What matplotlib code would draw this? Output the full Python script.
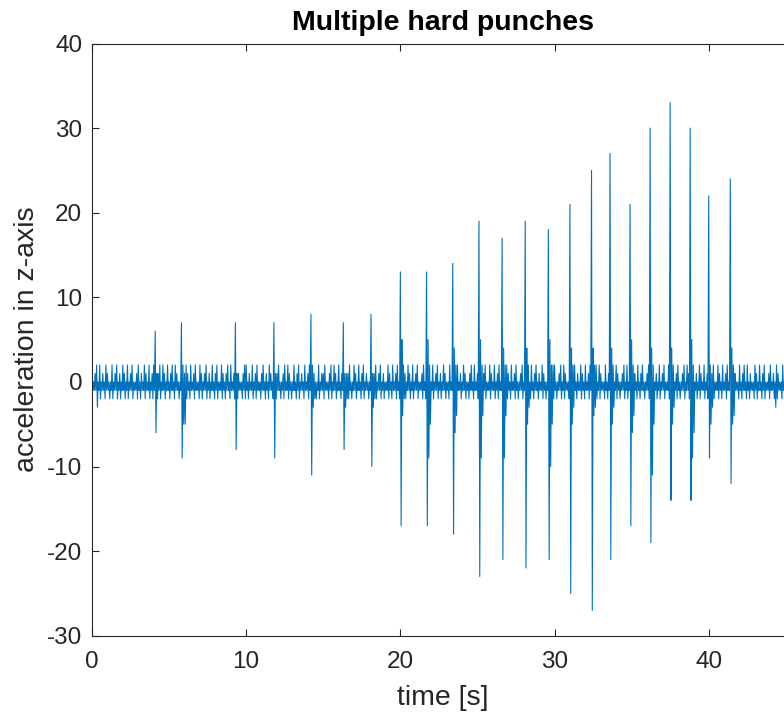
import numpy as np
import matplotlib
matplotlib.use("Agg")
import matplotlib.pyplot as plt

plt.rcParams['font.family'] = ['Liberation Sans', 'DejaVu Sans']
plt.rcParams['axes.unicode_minus'] = False

# Background sensor noise in 0.1 s bins: the highest level reached in each
# bin (digit = value) and the lowest one (digit = magnitude below zero).
bin_dt = 0.1
noise_hi_rows = [
    "20120201021002012010210201200120102102012001202102",
    "01202100120210201200210120102012002101202010210012",
    "20102012001201021020120012021002012010201202100201",
    "12001202102010201200210201201002102012010021020120",
    "02010210201200120210020120102100201202010210012020",
    "10201200210201201002102012001202100201201021002012",
    "20012021002012010210201200120210020120102100120201",
    "02102012001202101020120021020120012021002010210201",
    "20120021020120102100201202010021020120012010210020",
    "120201",
]
noise_lo_rows = [
    "11131211211212112121121211211212112112121121211211",
    "21121121211212112112121121211212112121121121211212",
    "12112121121121211212112121121211212112112121121211",
    "21121211211212112121121121211212112112121121211212",
    "12121121211211212112121121211212112121121121211211",
    "21121211211212112112121121211212112121121121211212",
    "12112121121121211212112121121211212112112121121211",
    "21121211211212112121121121211212112112121121211212",
    "12121121211211212112121121211212112121121123211211",
    "121121",
]

# Punch events: time [s], peak and trough, then the after-swings in the
# two following bins
punch_t = [4.1, 5.8, 9.3, 11.8, 14.2, 16.3, 18.1, 20.0, 21.7, 23.4, 25.1, 26.6,
           28.1, 29.6, 31.0, 32.4, 33.6, 34.9, 36.2, 37.5, 38.8, 40.0, 41.4]
punch_max = [6, 7, 7, 7, 8, 7, 8, 13, 13, 14, 19, 17, 19, 18, 21, 25, 27, 21,
             30, 33, 30, 22, 24]
punch_min = [-6, -9, -8, -9, -11, -8, -10, -17, -17, -18, -23, -21, -22, -21,
             -25, -27, -21, -17, -19, -14, -14, -9, -12]
punch_rebound = [1, 2, 1, 1, 2, 1, 1, 5, 5, 4, 5, 4, 4, 5, 4, 4, 4, 5, 4, 4,
                 5, 2, 4]
punch_dip = [-2, -5, -2, -2, -3, -3, -3, -4, -9, -6, -9, -9, -5, -10, -5, -4,
             -5, -6, -11, -5, -9, -5, -5]
punch_rebound2 = [1, 1, 1, 1, 1, 1, 1, 2, 2, 2, 2, 2, 2, 2, 2, 2, 2, 2, 2, 2,
                  2, 1, 2]
punch_dip2 = [-1, -5, -1, -1, -2, -2, -2, -2, -5, -4, -4, -4, -3, -5, -3, -3,
              -3, -4, -5, -3, -6, -3, -4]

hi_str = "".join(noise_hi_rows)
lo_str = "".join(noise_lo_rows)
n_bins = min(len(hi_str), len(lo_str))
bin_hi = np.array([int(c) for c in hi_str[:n_bins]], dtype=float)
bin_lo = -np.array([int(c) for c in lo_str[:n_bins]], dtype=float)

for k, ts in enumerate(punch_t):
    i = int(round(ts / bin_dt))
    bin_hi[i], bin_lo[i] = punch_max[k], punch_min[k]
    bin_hi[i + 1], bin_lo[i + 1] = punch_rebound[k], punch_dip[k]
    bin_hi[i + 2], bin_lo[i + 2] = punch_rebound2[k], punch_dip2[k]

# Interleave the bin extremes into one trace (high, then low, per bin)
bin_t = np.arange(n_bins) * bin_dt
t = np.column_stack([bin_t, bin_t + bin_dt / 2]).ravel()
acc = np.column_stack([bin_hi, bin_lo]).ravel()

W, H = 784, 713
fig = plt.figure(figsize=(W / 100, H / 100), dpi=100)
ax = fig.add_axes([92 / W, (H - 635.7) / H, 701.5 / W, 592.2 / H])

ax.plot(t, acc, color='#0072BD', linewidth=0.8)

ax.set_xlim(0, 45.5)
ax.set_ylim(-30, 40)
ax.set_xticks(np.arange(0, 50, 10))
ax.set_yticks(np.arange(-30, 41, 10))

axis_gray = '#262626'
for s in ax.spines.values():
    s.set_color(axis_gray)
    s.set_linewidth(0.8)
ax.tick_params(direction='in', length=5, width=0.8, colors=axis_gray,
               top=True, right=True, labelsize=17.5)
ax.tick_params(axis='x', pad=11)
ax.tick_params(axis='y', pad=7)

ax.set_xlabel('time [s]', fontsize=20.5, color=axis_gray, labelpad=9)
ax.set_ylabel('acceleration in z-axis', fontsize=20.5, color=axis_gray, labelpad=5)
ax.set_title('Multiple hard punches', fontsize=20.5, fontweight='bold', pad=10)

fig.savefig('out.png', dpi=100)
